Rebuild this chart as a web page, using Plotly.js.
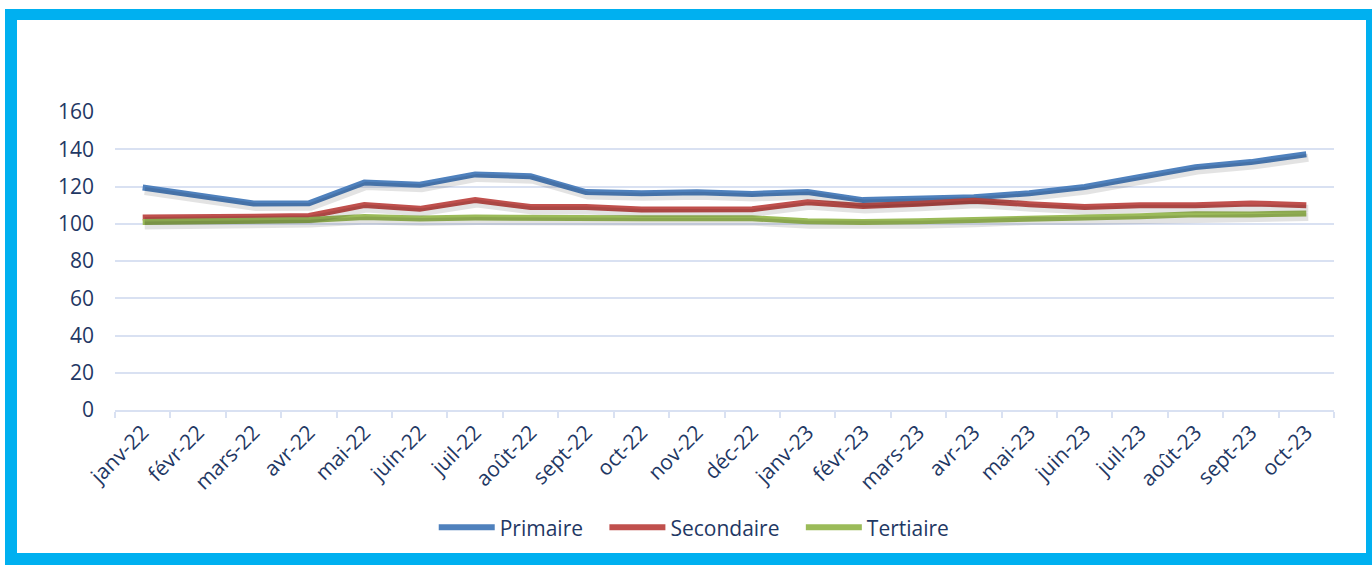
<!DOCTYPE html>
<html>
<head>
<meta charset="utf-8">
<script src="https://cdn.plot.ly/plotly-3.0.1.min.js"></script>
<style>
  html, body { margin: 0; padding: 0; background: #ffffff; overflow: hidden; }
  #chart { width: 1372px; height: 565px; }
  #frame {
    position: absolute; left: 5px; top: 9px; width: 1367px; height: 556px;
    box-sizing: border-box; pointer-events: none;
    border-style: solid; border-color: #00B0F0;
    border-width: 11px 6px 12px 12px;
  }
</style>
</head>
<body>
<div id="chart"></div>
<div id="frame"></div>
<script>
const months = ["janv-22","févr-22","mars-22","avr-22","mai-22","juin-22","juil-22","août-22","sept-22","oct-22","nov-22","déc-22",
                "janv-23","févr-23","mars-23","avr-23","mai-23","juin-23","juil-23","août-23","sept-23","oct-23"];
const primaire   = [119.5,115,110.9,111,122.2,121,126.5,125.5,117,116.4,116.9,116,117,112.7,113.5,114.2,116.4,119.7,125.1,130.4,133.1,137.3];
const secondaire = [103.3,103.3,103.8,104.2,110,108,112.7,109,109,107.6,107.6,107.8,111.5,109.5,110.8,112.4,110.5,109,110,110,110.9,110];
const tertiaire  = [100.9,101,101.5,102,103.6,102.8,103.3,102.9,102.9,102.9,102.9,102.9,101.4,100.9,101.4,102.2,103.3,103.3,104,105.1,105,105.5];
const seriesNames = ["Primaire","Secondaire","Tertiaire"];
const yTicks = [0,20,40,60,80,100,120,140,160];

const colors = ["#4F81BD","#C0504D","#9BBB59"];
const textColor = "#1F3864";
const gridColor = "#D9E1F2";
const font = "'Open Sans', 'Noto Sans', sans-serif";
const pad = "\u00a0\u00a0\u00a0";

const allSeries = [primaire, secondaire, tertiaire];
const traces = [];
// soft shadows (same data, drawn on slightly offset overlay axes)
allSeries.forEach((vals) => {
  traces.push({
    x: months, y: vals, type: "scatter", mode: "lines",
    xaxis: "x2", yaxis: "y2", showlegend: false, hoverinfo: "skip",
    line: { color: "rgba(0,0,0,0.11)", width: 8 }
  });
});
allSeries.forEach((vals, i) => {
  traces.push({
    x: months, y: vals, type: "scatter", mode: "lines",
    name: seriesNames[i] + (i < allSeries.length - 1 ? pad : ""),
    line: { color: colors[i], width: 6 }
  });
});

const pxPerUnit = 298 / 160;
const shadowDy = 3.5 / pxPerUnit;
const catPx = 1219 / months.length;
const shadowDx = 2 / catPx;

const layout = {
  width: 1372, height: 565,
  margin: { l: 115, r: 38, t: 112, b: 155, pad: 0 },
  paper_bgcolor: "#ffffff", plot_bgcolor: "#ffffff",
  font: { family: font, color: textColor, size: 21 },
  showlegend: true,
  legend: {
    orientation: "h", xref: "container", yref: "container",
    x: 0.506, xanchor: "center", y: 0.066, yanchor: "middle",
    font: { family: font, size: 21, color: textColor },
    itemwidth: 56, tracegroupgap: 0
  },
  xaxis: {
    type: "category", categoryorder: "array", categoryarray: months,
    range: [-0.5, months.length - 0.5],
    showline: true, linecolor: gridColor, linewidth: 2,
    ticks: "outside", tickson: "boundaries", ticklen: 6, tickwidth: 2, tickcolor: gridColor,
    tickangle: -45, showgrid: false, zeroline: false,
    tickfont: { family: font, size: 21, color: textColor }
  },
  yaxis: {
    range: [0, 160], tickvals: yTicks, ticktext: yTicks.map(String),
    showgrid: true, gridcolor: gridColor, gridwidth: 2,
    zeroline: false, showline: false, ticks: "",
    ticklabelstandoff: 20,
    tickfont: { family: font, size: 21, color: textColor }
  },
  xaxis2: {
    overlaying: "x", type: "category", categoryorder: "array", categoryarray: months,
    range: [-0.5 - shadowDx, months.length - 0.5 - shadowDx],
    visible: false, showgrid: false, zeroline: false
  },
  yaxis2: {
    overlaying: "y", range: [shadowDy, 160 + shadowDy],
    visible: false, showgrid: false, zeroline: false
  }
};

Plotly.newPlot("chart", traces, layout, { displayModeBar: false, staticPlot: true });
</script>
</body>
</html>
